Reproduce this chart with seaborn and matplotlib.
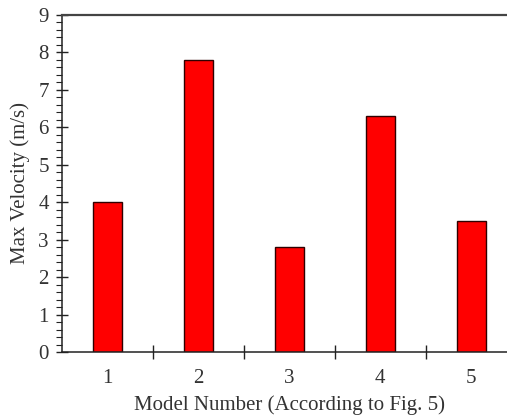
import matplotlib
matplotlib.use("Agg")
import matplotlib.pyplot as plt
import seaborn as sns
import pandas as pd
from matplotlib.ticker import MultipleLocator, FixedLocator, NullFormatter

models = ["1", "2", "3", "4", "5"]
velocity = [4.0, 7.8, 2.8, 6.3, 3.5]
y_ticks = [0, 1, 2, 3, 4, 5, 6, 7, 8, 9]

sns.set_style("white")
plt.rcParams['font.family'] = ['Liberation Serif', 'DejaVu Serif']

W, H = 507, 419
fig = plt.figure(figsize=(W / 100, H / 100), dpi=100)
ax = fig.add_axes([62 / W, 67 / H, 454.5 / W, 337 / H])

df = pd.DataFrame({"model": models, "v": velocity})
sns.barplot(data=df, x="model", y="v", color="#ff0000", width=0.32,
            edgecolor="#300000", linewidth=1.0, saturation=1, ax=ax)

ax.set_xlim(-0.5, 4.5)
ax.set_ylim(0, 9)
ax.set_yticks(y_ticks)
ax.yaxis.set_minor_locator(MultipleLocator(0.2))
ax.xaxis.set_minor_locator(FixedLocator([0.5, 1.5, 2.5, 3.5]))
ax.xaxis.set_minor_formatter(NullFormatter())

ax.tick_params(axis="y", which="both", left=True)
ax.tick_params(axis="x", which="both", bottom=True)
ax.tick_params(axis="y", which="major", direction="inout", length=9, width=1,
               labelsize=15, pad=5, color="#222222", labelcolor="#333333")
ax.tick_params(axis="y", which="minor", direction="out", length=4, width=0.8,
               color="#222222")
ax.tick_params(axis="x", which="major", length=0, labelsize=15, pad=12,
               labelcolor="#333333")
ax.tick_params(axis="x", which="minor", direction="inout", length=10, width=1,
               color="#222222")

for s in ["left", "bottom"]:
    ax.spines[s].set_color("#222222")
    ax.spines[s].set_linewidth(1.1)
ax.spines["top"].set_color("#444444")
ax.spines["top"].set_linewidth(1.6)
ax.spines["right"].set_visible(False)

ax.set_xlabel("Model Number (According to Fig. 5)", fontsize=15, color="#333333")
ax.set_ylabel("Max Velocity (m/s)", fontsize=15, color="#333333")
ax.xaxis.set_label_coords(0.5, -(395 - 352) / 337)
ax.yaxis.set_label_coords(-(62 - 30) / 454.5, 0.5)

fig.savefig("out.png", dpi=100)
